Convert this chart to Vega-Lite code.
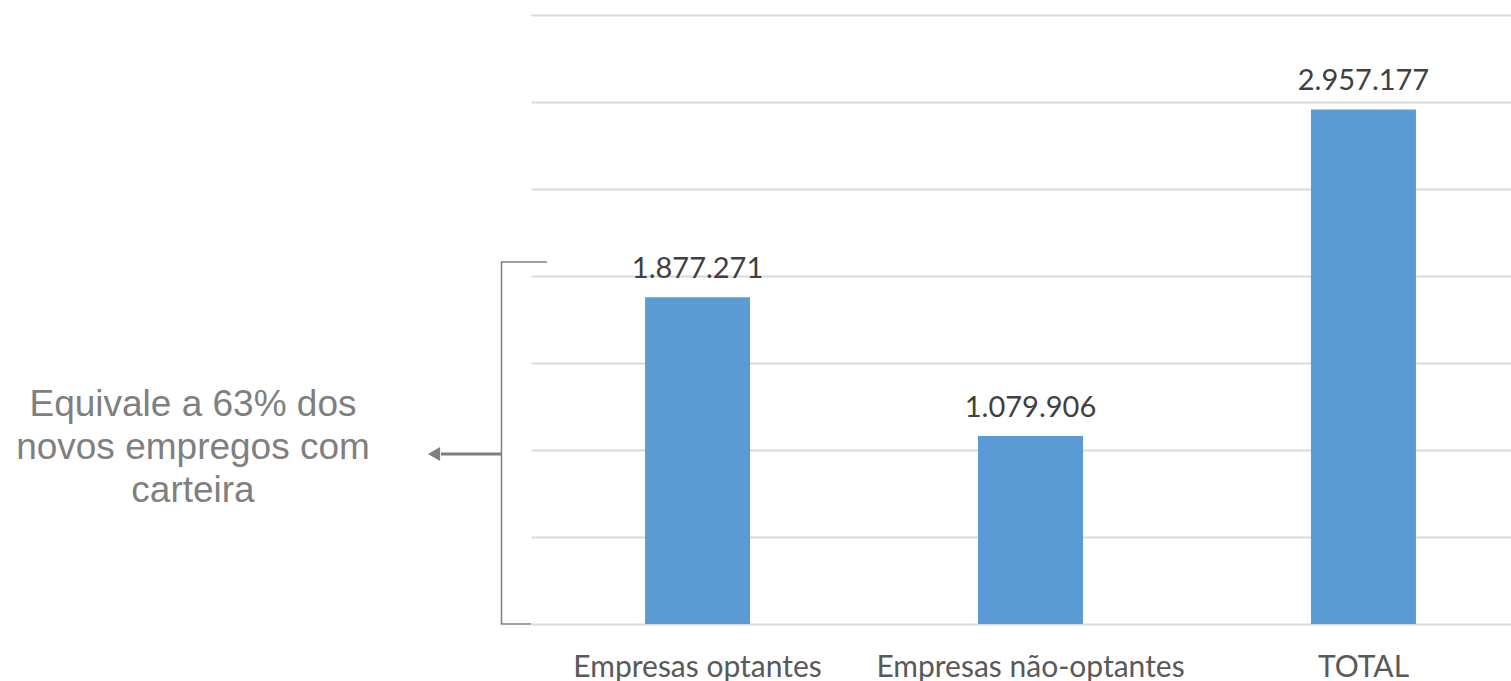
{
  "$schema": "https://vega.github.io/schema/vega-lite/v6.json",
  "width": 980,
  "height": 609,
  "autosize": "none",
  "padding": {"left": 531, "top": 15, "right": 0, "bottom": 57},
  "background": "white",
  "config": {
    "view": {"stroke": null},
    "locale": {"number": {"decimal": ",", "thousands": ".", "grouping": [3], "currency": ["R$", ""]}}
  },
  "datasets": {
    "barras": [
      {"categoria": "Empresas optantes", "empregos": 1877271},
      {"categoria": "Empresas não-optantes", "empregos": 1079906},
      {"categoria": "TOTAL", "empregos": 2957177}
    ],
    "chave": [{"y_inicio": 0, "y_fim": 2080000}],
    "nota": [{"y_texto": 1259000, "y_seta": 977000, "texto": "Equivale a 63% dos\nnovos empregos com\ncarteira"}]
  },
  "layer": [
    {
      "data": {"name": "barras"},
      "mark": {"type": "bar", "color": "#5b9bd5"},
      "encoding": {
        "x": {
          "field": "categoria", "type": "nominal", "sort": null, "title": null,
          "scale": {"paddingInner": 0.6847, "paddingOuter": 0.314, "align": 0.5455},
          "axis": {"domain": false, "ticks": false, "grid": false, "labelAngle": 0, "labelFont": "Lato", "labelFontSize": 30, "labelLimit": 0, "labelColor": "#595959", "labelPadding": 52, "labelBaseline": "alphabetic"}
        },
        "y": {
          "field": "empregos", "type": "quantitative", "title": null,
          "scale": {"domain": [0, 3500000], "nice": false},
          "axis": {"domain": false, "ticks": false, "labels": false, "grid": true, "gridColor": "#d9d9d9", "gridWidth": 2, "values": [0, 500000, 1000000, 1500000, 2000000, 2500000, 3000000, 3500000]}
        }
      }
    },
    {
      "data": {"name": "barras"},
      "mark": {"type": "text", "baseline": "alphabetic", "dy": -19, "font": "Lato", "fontSize": 29, "color": "#404040"},
      "encoding": {
        "x": {"field": "categoria", "type": "nominal", "sort": null, "title": null},
        "y": {"field": "empregos", "type": "quantitative", "title": null},
        "text": {"field": "empregos", "type": "quantitative", "format": ",d"}
      }
    },
    {
      "data": {"name": "chave"},
      "mark": {"type": "rule", "color": "#7f7f7f", "strokeWidth": 1.5},
      "encoding": {
        "x": {"value": -29.5},
        "y": {"field": "y_inicio", "type": "quantitative", "title": null},
        "y2": {"field": "y_fim"}
      }
    },
    {
      "data": {"name": "chave"},
      "mark": {"type": "rule", "color": "#7f7f7f", "strokeWidth": 1.5},
      "encoding": {
        "x": {"value": -30.25},
        "x2": {"value": 16},
        "y": {"field": "y_fim", "type": "quantitative", "title": null}
      }
    },
    {
      "data": {"name": "chave"},
      "mark": {"type": "rule", "color": "#7f7f7f", "strokeWidth": 1.5},
      "encoding": {
        "x": {"value": -30.25},
        "x2": {"value": 0},
        "y": {"field": "y_inicio", "type": "quantitative", "title": null}
      }
    },
    {
      "data": {"name": "nota"},
      "mark": {"type": "rule", "color": "#7f7f7f", "strokeWidth": 3},
      "encoding": {
        "x": {"value": -30},
        "x2": {"value": -90},
        "y": {"field": "y_seta", "type": "quantitative", "title": null}
      }
    },
    {
      "data": {"name": "nota"},
      "mark": {"type": "point", "shape": "triangle-left", "filled": true, "color": "#7f7f7f", "opacity": 1, "size": 200},
      "encoding": {
        "x": {"value": -97},
        "y": {"field": "y_seta", "type": "quantitative", "title": null}
      }
    },
    {
      "data": {"name": "nota"},
      "mark": {"type": "text", "lineBreak": "\n", "align": "center", "baseline": "middle", "font": "Liberation Sans", "fontSize": 37, "lineHeight": 43, "color": "#7f7f7f"},
      "encoding": {
        "x": {"value": -338},
        "y": {"field": "y_texto", "type": "quantitative", "title": null},
        "text": {"field": "texto", "type": "nominal"}
      }
    }
  ]
}
